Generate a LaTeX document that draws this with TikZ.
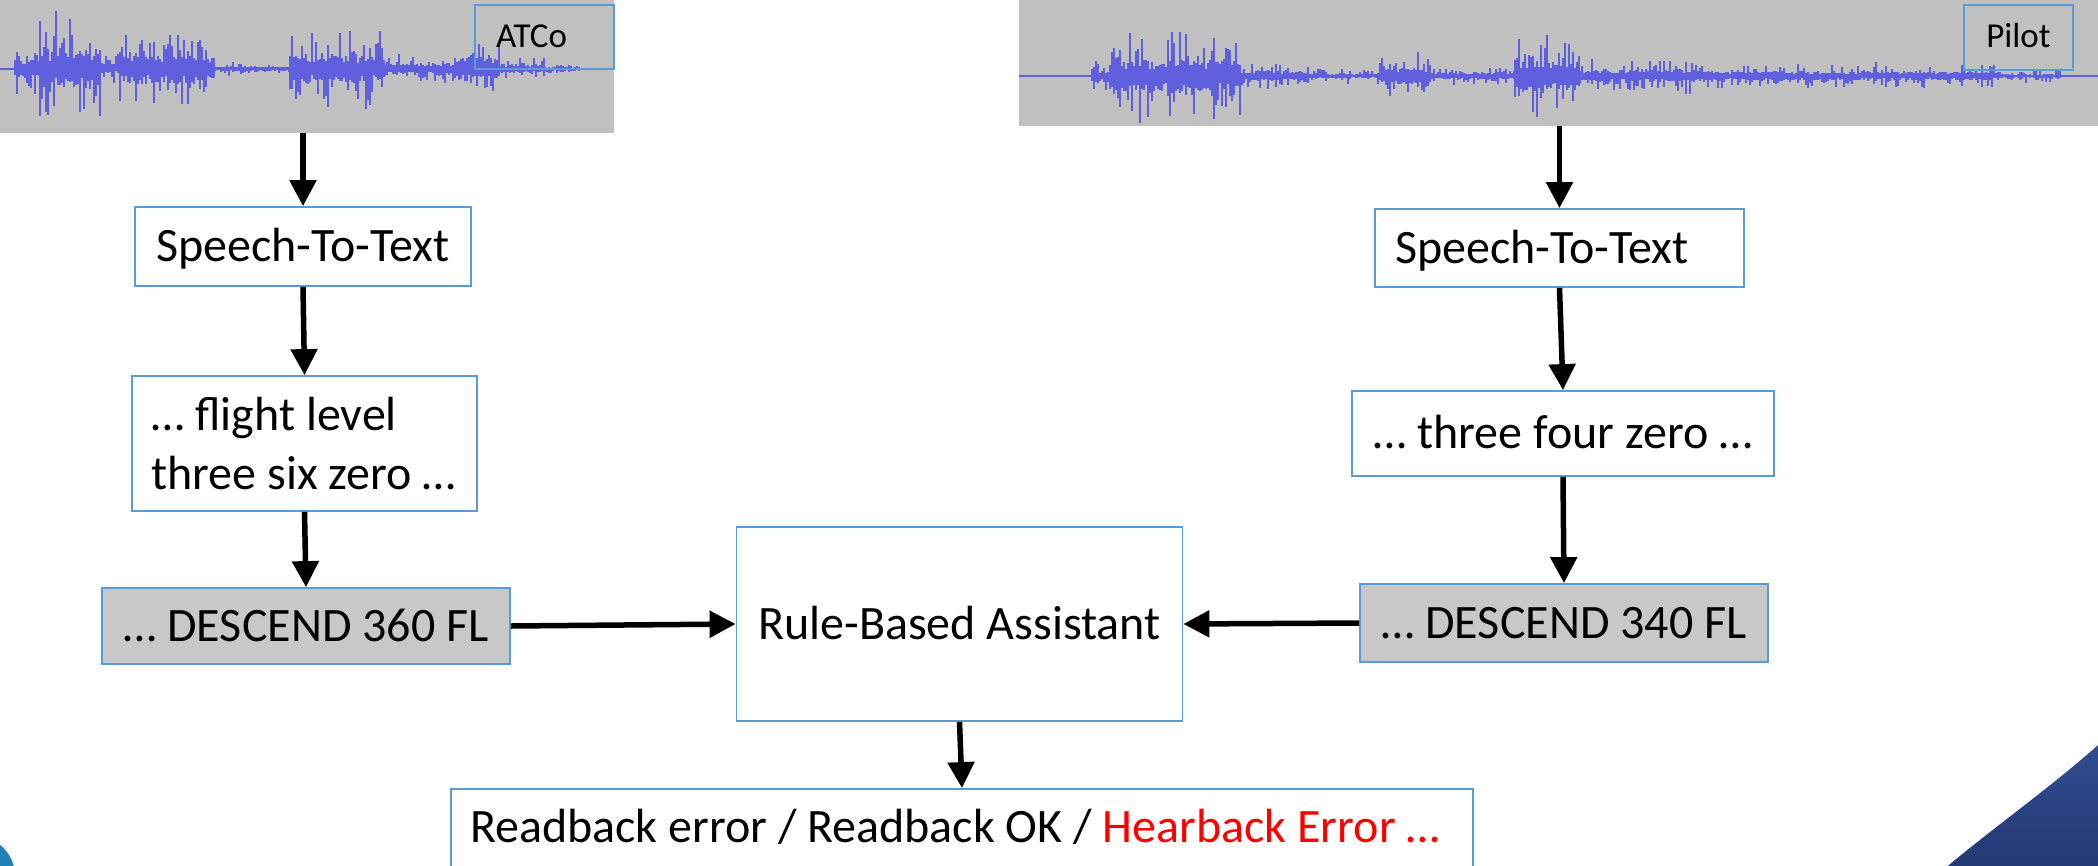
\documentclass[tikz,border=0pt]{standalone}
\usepackage{fontspec}
\setmainfont{Carlito}
\usetikzlibrary{arrows.meta}

\definecolor{wavegray}{RGB}{192,192,192}
\definecolor{boxgray}{RGB}{200,200,200}
\definecolor{boxblue}{RGB}{91,155,213}
\definecolor{wavecol}{RGB}{96,96,222}
\definecolor{hearred}{RGB}{255,0,0}
\definecolor{cornertop}{RGB}{48,76,142}
\definecolor{cornerbot}{RGB}{36,56,116}
\definecolor{tealdot}{RGB}{30,130,185}

% random vertical bars of an audio trace: from x #1 to x #2, peak #3, axis y #4
\newcommand\wavebars[4]{%
  \pgfmathtruncatemacro\nbars{(#2-#1)/2}%
  \foreach \i in {0,...,\nbars}{%
    \pgfmathsetmacro\xx{#1+2*\i}%
    \pgfmathsetmacro\ra{rnd}\pgfmathsetmacro\rb{rnd}%
    \pgfmathsetmacro\rc{rnd}\pgfmathsetmacro\rd{rnd}%
    \pgfmathsetmacro\up{#3*(0.14+0.18*\ra+0.68*\rb^4)}%
    \pgfmathsetmacro\dn{#3*(0.14+0.18*\rc+0.68*\rd^4)}%
    \draw[wavebar] (\xx,#4-\up) -- (\xx,#4+\dn);
  }}

\tikzset{
  wavebar/.style={wavecol, line width=1.7pt},
  waveaxis/.style={wavecol, line width=1.2pt},
  panel/.style={rectangle, fill=wavegray, inner sep=0pt},
  speaker/.style={rectangle, draw=boxblue, line width=1.6pt, inner sep=0pt,
    font=\fontsize{35}{42}\selectfont, text height=26pt, text depth=6pt},
  stepbox/.style={rectangle, draw=boxblue, line width=1.8pt, fill=white, inner sep=0pt,
    text height=40pt, text depth=10pt},
  grayfill/.style={fill=boxgray},
  flow/.style={-{Triangle[length=26pt,width=26pt]}, line width=5.5pt, black},
}

\begin{document}
\begin{tikzpicture}[x=1pt, y=-1pt, font=\fontsize{48}{59}\selectfont]
\useasboundingbox (0,0) rectangle (2098,865);
\clip (0,0) rectangle (2098,865);
\pgfmathsetseed{7}

% ---- controller audio trace
\node[panel, minimum width=614pt, minimum height=133pt] (atcowave) at (307,66.5) {};
\draw[waveaxis] (0,69) -- (614,69);
\wavebars{15}{40}{30}{69}
\wavebars{40}{100}{60}{69}
\wavebars{100}{120}{16}{69}
\wavebars{120}{215}{42}{69}
\wavebars{215}{290}{8}{69}
\wavebars{290}{385}{42}{69}
\wavebars{385}{455}{16}{69}
\wavebars{455}{500}{34}{69}
\wavebars{500}{545}{12}{69}
\wavebars{545}{580}{6}{69}
\node[speaker, minimum width=139pt, minimum height=64pt, text width=97pt,
  inner xsep=21pt, align=flush left] (atcolabel) at (544.5,37) {ATCo};

% ---- pilot audio trace
\node[panel, minimum width=1079pt, minimum height=126pt] (pilotwave) at (1558.5,63) {};
\draw[waveaxis] (1019,76) -- (2098,76);
\wavebars{1092}{1110}{20}{76}
\wavebars{1110}{1240}{48}{76}
\wavebars{1240}{1308}{15}{76}
\wavebars{1308}{1380}{8}{76}
\wavebars{1380}{1430}{26}{76}
\wavebars{1430}{1515}{10}{76}
\wavebars{1515}{1580}{44}{76}
\wavebars{1580}{1700}{19}{76}
\wavebars{1700}{2000}{14}{76}
\wavebars{2000}{2060}{8}{76}
\node[speaker, minimum width=109pt, minimum height=65pt] (pilotlabel) at (2018.5,37.5) {Pilot};

% ---- controller branch
\node[stepbox, minimum width=336pt, minimum height=79pt] (stt1) at (303,246.5) {Speech-To-Text};
\node[rectangle, draw=boxblue, line width=1.8pt, fill=white, minimum height=135pt,
  text width=306pt, inner xsep=19.5pt, inner ysep=0pt, align=flush left] (flight) at (304.5,443.5)
  {… flight level\\three six zero …};
\node[stepbox, grayfill, minimum width=408pt, minimum height=76pt] (d360) at (306,626) {… DESCEND 360 FL};

% ---- pilot branch
\node[stepbox, minimum height=78pt, text width=329pt, inner xsep=20pt, align=flush left] (stt2)
  at (1559.5,248) {Speech-To-Text};
\node[stepbox, minimum width=422pt, minimum height=85pt] (three) at (1563,433.5) {… three four zero …};
\node[stepbox, grayfill, minimum width=408pt, minimum height=78pt] (d340) at (1564,623) {… DESCEND 340 FL};

% ---- comparison and result (the result box runs on below the lower edge)
\node[stepbox, minimum width=446pt, minimum height=194pt] (rule) at (959.5,624) {Rule-Based Assistant};
\node[stepbox, text depth=30pt, minimum height=96pt, text width=984pt, inner xsep=19pt,
  align=flush left] (result)
  at (962,837) {Readback error / Readback OK / \textcolor{hearred}{Hearback Error …}};

% ---- connectors
\draw[flow] (stt1.north |- atcowave.south) -- (stt1.north);
\draw[flow] (stt1.south) -- (flight.north);
\draw[flow] (flight.south) -- (d360.north);
\draw[flow] (stt2.north |- pilotwave.south) -- (stt2.north);
\draw[flow] (stt2.south) -- (three.north);
\draw[flow] (three.south) -- (d340.north);
\draw[flow] (d360.east) -- (rule.west);
\draw[flow] (d340.west) -- (rule.east);
\draw[flow] (rule.south) -- (result.north);

% ---- decorative corners
\shade[top color=cornertop, bottom color=cornerbot]
  (1943,870) .. controls (1990,830) and (2050,788) .. (2098,745) -- (2098,870) -- cycle;
\fill[tealdot] (-25,876) circle (40);
\end{tikzpicture}
\end{document}
